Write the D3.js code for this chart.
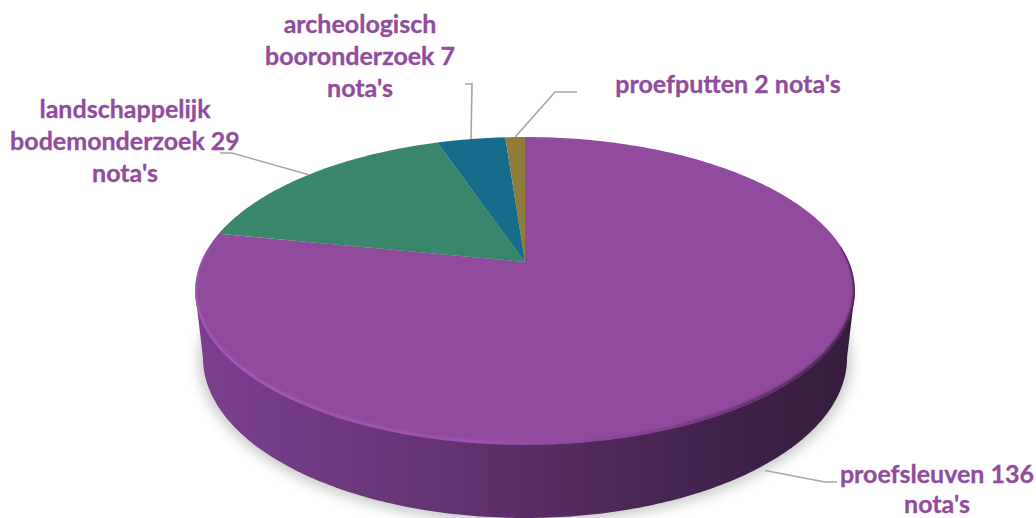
<!DOCTYPE html>
<html>
<head>
<meta charset="utf-8">
<script src="https://cdnjs.cloudflare.com/ajax/libs/d3/7.8.5/d3.min.js"></script>
<style>
  html, body { margin: 0; padding: 0; background: #fff; overflow: hidden; }
  text { font-family: Lato, "Open Sans", sans-serif; font-weight: 700; font-size: 25px; fill: #914c9d; stroke: #914c9d; stroke-width: 0.3px; text-anchor: middle; }
</style>
</head>
<body>
<svg width="1036" height="518"></svg>
<script>
var categories = ["proefsleuven", "landschappelijk bodemonderzoek", "archeologisch booronderzoek", "proefputten"];
var values = [136, 29, 7, 2];
var colors = ["#904b9c", "#3a866d", "#176c8b", "#8f7b3a"];
var labelLines = [
  ["proefsleuven 136", "nota's"],
  ["landschappelijk", "bodemonderzoek 29", "nota's"],
  ["archeologisch", "booronderzoek 7", "nota's"],
  ["proefputten 2 nota's"]
];

var svg = d3.select("svg");
var defs = svg.append("defs");

// perspective pie: apex is not in the middle of the ellipse
var apexX = 525, apexY = 262;
var k = 0.188, scaleX = 324, scaleY = 148.5;
var depth = 74;

function project(a, dy) {
  var u = Math.sin(a), v = Math.cos(a), w = 1 + k * v;
  return [apexX + scaleX * u / w, apexY - scaleY * v / w + (dy || 0)];
}

// lower rim of the disc
var bottomCy = 358, bottomRx = 322, bottomRy = 160;
function bottomPoint(a) {
  return [apexX + bottomRx * Math.sin(a), bottomCy - bottomRy * Math.cos(a)];
}

var line = d3.line();
var pie = d3.pie().sort(null).value(function(d) { return d; });
var arcs = pie(values);

function sample(a0, a1) {
  var n = Math.max(2, Math.ceil(Math.abs(a1 - a0) * 60));
  return d3.range(n + 1).map(function(i) { return a0 + (a1 - a0) * i / n; });
}

var topRim = sample(0, 2 * Math.PI).map(function(a) { return project(a); });
var topLeft = topRim[d3.scan(topRim, function(a, b) { return a[0] - b[0]; })];
var topRight = topRim[d3.scan(topRim, function(a, b) { return b[0] - a[0]; })];

// shadow
defs.append("filter").attr("id", "soft").attr("x", "-10%").attr("y", "-10%").attr("width", "120%").attr("height", "130%")
  .append("feGaussianBlur").attr("stdDeviation", 6);
defs.append("filter").attr("id", "rimblur").attr("x", "-5%").attr("y", "-5%").attr("width", "110%").attr("height", "110%")
  .append("feGaussianBlur").attr("stdDeviation", 1.1);
defs.append("clipPath").attr("id", "topface")
  .append("path").attr("d", line(topRim) + "Z");

svg.append("ellipse")
  .attr("cx", apexX).attr("cy", bottomCy + 2)
  .attr("rx", bottomRx + 5).attr("ry", bottomRy + 4)
  .attr("fill", "#bdbdbd").attr("opacity", 0.75)
  .attr("filter", "url(#soft)");

// side of the disc
var sideGrad = defs.append("linearGradient").attr("id", "side")
  .attr("gradientUnits", "userSpaceOnUse")
  .attr("x1", 195).attr("x2", 855).attr("y1", 0).attr("y2", 0);
[[0, "#7c3f90"], [0.2, "#6f3980"], [0.4, "#623270"], [0.6, "#512a5d"], [0.8, "#40224a"], [1, "#351c3c"]].forEach(function(s) {
  sideGrad.append("stop").attr("offset", s[0]).attr("stop-color", s[1]);
});

var sideShape = [topRight].concat(sample(Math.PI / 2, Math.PI * 1.5).map(function(a) { return bottomPoint(a); }), [topLeft]);
svg.append("path")
  .attr("d", line(sideShape) + "Z")
  .attr("fill", "url(#side)");

// pie slices on the top face
svg.append("g").selectAll("path")
  .data(arcs)
  .enter().append("path")
  .attr("d", function(d) {
    var pts = sample(d.startAngle, d.endAngle).map(function(a) { return project(a); });
    pts.push([apexX, apexY]);
    return line(pts) + "Z";
  })
  .attr("fill", function(d, i) { return colors[i]; });

// bevel along the front of the top face
var rimGrad = defs.append("linearGradient").attr("id", "rim")
  .attr("gradientUnits", "userSpaceOnUse")
  .attr("x1", 195).attr("x2", 855).attr("y1", 0).attr("y2", 0);
[[0, "#a85dbd"], [0.45, "#9c55ae"], [0.7, "#7a4287"], [0.9, "#4d2a58"], [1, "#2f1a36"]].forEach(function(s) {
  rimGrad.append("stop").attr("offset", s[0]).attr("stop-color", s[1]);
});
var arcFront = sample(Math.PI * 0.47, Math.PI * 1.53).map(function(a) { return project(a, -1.5); });
svg.append("g")
  .attr("clip-path", "url(#topface)")
  .append("path")
  .attr("d", line(arcFront))
  .attr("fill", "none")
  .attr("stroke", "url(#rim)")
  .attr("stroke-width", 3)
  .attr("filter", "url(#rimblur)");

// leader lines and labels, start of each leader comes from the slice mid angle
var elbows = [
  [[825, 482], [837, 482]],
  [[232, 153], [220, 153]],
  [[472, 84], [465, 84]],
  [[555, 92], [577, 92]]
];
var labelX = [937, 125, 360, 728];
var labelY = [483, 118, 33, 93];
var lineSteps = [29.5, 32, 32, 32];

svg.append("g").selectAll("path")
  .data(arcs)
  .enter().append("path")
  .attr("d", function(d, i) {
    var mid = (d.startAngle + d.endAngle) / 2;
    var start = project(mid, i == 0 ? depth : 0);
    return line([start].concat(elbows[i]));
  })
  .attr("fill", "none")
  .attr("stroke", "#a6a6a6")
  .attr("stroke-width", 1.6);

var labels = svg.append("g").selectAll("text")
  .data(labelLines)
  .enter().append("text")
  .attr("x", function(d, i) { return labelX[i]; })
  .attr("y", function(d, i) { return labelY[i]; });

labels.selectAll("tspan")
  .data(function(d, i) { return d.map(function(t, j) { return { t: t, x: labelX[i], j: j, step: lineSteps[i] }; }); })
  .enter().append("tspan")
  .attr("x", function(d) { return d.x; })
  .attr("dy", function(d) { return d.j ? d.step : 0; })
  .text(function(d) { return d.t; });
</script>
</body>
</html>
